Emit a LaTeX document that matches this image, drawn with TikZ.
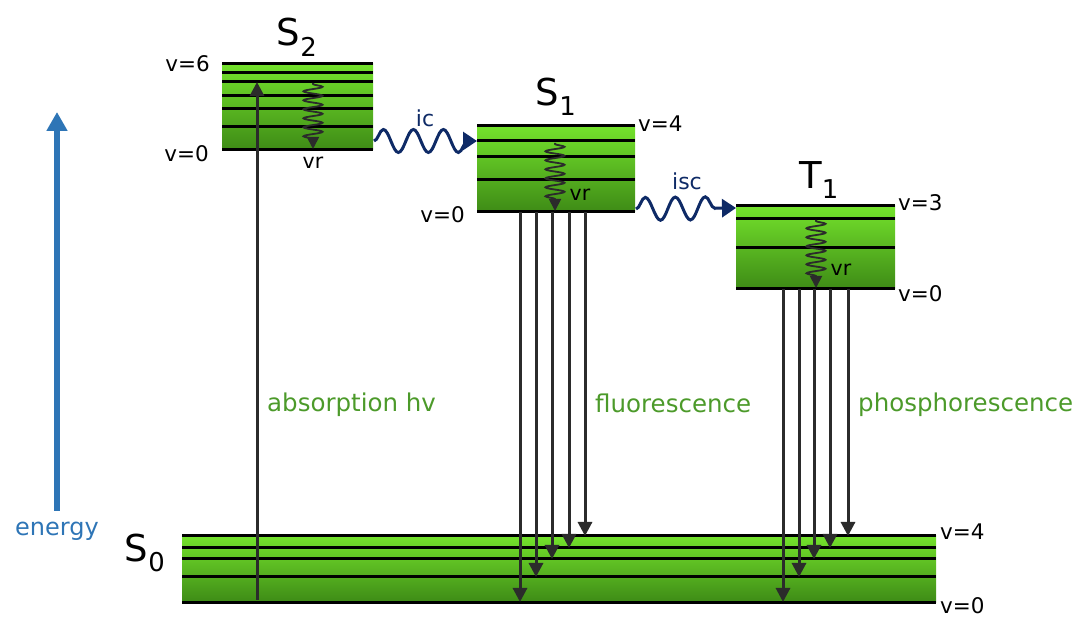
\documentclass[tikz,border=0pt]{standalone}
\usepackage{fontspec}
\setmainfont{DejaVu Sans}
\usetikzlibrary{arrows.meta,decorations.pathmorphing}
\definecolor{gtop}{HTML}{74E22C}
\definecolor{gbot}{HTML}{3E8B16}
\definecolor{glabel}{HTML}{4C9A2A}
\definecolor{navy}{HTML}{0E2A66}
\definecolor{ebl}{HTML}{2E75B6}
\definecolor{dgray}{HTML}{2B2B2B}
\tikzset{
  box/.style={draw=none, inner sep=0, outer sep=0, anchor=north west, top color=gtop, bottom color=gbot},
  lvl/.style={line width=3pt, black},
  arr/.style={line width=3pt, dgray, -{Triangle[length=14pt,width=14pt]}},
  wig/.style={line width=1.8pt, dgray, -{Triangle[length=12pt,width=12pt]}, decorate,
    decoration={snake, amplitude=9.5pt, segment length=9pt, pre length=1pt, post length=9pt}},
  wave/.style={line width=3pt, navy, -{Triangle[length=14pt,width=18pt]}, decorate,
    decoration={snake, amplitude=11.5pt, segment length=30pt, post length=9pt}},
  vlab/.style={font=\fontsize{21.5}{24}\selectfont, inner sep=0},
  slab/.style={font=\fontsize{37}{40}\selectfont, inner sep=0},
  glab/.style={font=\fontsize{24.5}{28}\selectfont, text=glabel, inner sep=0, anchor=west},
  vrlab/.style={font=\fontsize{20.5}{24}\selectfont, inner sep=0},
  wlab/.style={font=\fontsize{22}{26}\selectfont, text=navy, inner sep=0},
}
\begin{document}
\begin{tikzpicture}[x=1pt,y=-1pt]
\useasboundingbox (0,0) rectangle (1080,617);
% boxes
\node[box, minimum width=151pt, minimum height=86pt] (s2) at (222,64) {};
\node[box, minimum width=158pt, minimum height=86pt] (s1) at (477,126) {};
\node[box, minimum width=159pt, minimum height=83pt] (t1) at (736,206) {};
\node[box, minimum width=754pt, minimum height=66pt] (s0) at (182,536) {};
% levels S2
\foreach \y in {64,73,82,96,109,127,150} \draw[lvl] (222,\y) -- (373,\y);
% levels S1
\foreach \y in {126,141,157,180,212} \draw[lvl] (477,\y) -- (635,\y);
% levels T1
\foreach \y in {206,219,248,289} \draw[lvl] (736,\y) -- (895,\y);
% levels S0
\foreach \y in {536,548,559,577,602} \draw[lvl] (182,\y) -- (936,\y);
% state labels
\node[slab] (ls2) at (297,37) {S\textsubscript{2}};
\node[slab] (ls1) at (556,97) {S\textsubscript{1}};
\node[slab] (lt1) at (819,180) {T\textsubscript{1}};
\node[slab] (ls0) at (145,553) {S\textsubscript{0}};
% v labels
\node[vlab, anchor=east] (a1) at (210,64) {v=6};
\node[vlab, anchor=east] (a2) at (209,154) {v=0};
\node[vlab, anchor=west] (a3) at (638,124) {v=4};
\node[vlab, anchor=east] (a4) at (465,215) {v=0};
\node[vlab, anchor=west] (a5) at (898,203) {v=3};
\node[vlab, anchor=west] (a6) at (898,294) {v=0};
\node[vlab, anchor=west] (a7) at (940,532) {v=4};
\node[vlab, anchor=west] (a8) at (940,606) {v=0};
% absorption
\coordinate (ab0) at (257,600);
\coordinate (ab1) at (257,82);
\draw[arr] (ab0) -- (ab1);
% vibrational relaxation
\coordinate (w2a) at (313,83); \coordinate (w2b) at (313,149);
\coordinate (w1a) at (555,143); \coordinate (w1b) at (555,211);
\coordinate (w3a) at (816,220); \coordinate (w3b) at (816,288);
\draw[wig] (w2a) -- (w2b);
\draw[wig] (w1a) -- (w1b);
\draw[wig] (w3a) -- (w3b);
\node[vrlab] (vr2) at (313,163) {vr};
\node[vrlab] (vr1) at (580,195) {vr};
\node[vrlab] (vr3) at (841,270) {vr};
% ic and isc
\coordinate (ica) at (374,141); \coordinate (icb) at (477,141);
\coordinate (isa) at (636,209); \coordinate (isb) at (736,208);
\draw[wave] (ica) -- (icb);
\draw[wave] (isa) -- (isb);
\node[wlab] (lic) at (425,118) {ic};
\node[wlab] (lisc) at (687,181) {isc};
% fluorescence
\foreach \x/\y [count=\i] in {520/602,536/577,552/559,569/548,585/536} {
  \coordinate (fa\i) at (\x,212); \coordinate (fb\i) at (\x,\y);
  \draw[arr] (fa\i) -- (fb\i);
}
% phosphorescence
\foreach \x/\y [count=\i] in {783/602,799/577,814/559,830/548,848/536} {
  \coordinate (pa\i) at (\x,289); \coordinate (pb\i) at (\x,\y);
  \draw[arr] (pa\i) -- (pb\i);
}
% green labels
\node[glab] (labs) at (267,405) {absorption hv};
\node[glab] (lfl) at (595,403) {fluorescence};
\node[glab] (lph) at (858,405) {phosphorescence};
% energy axis
\coordinate (e0) at (57,511);
\coordinate (e1) at (57,112);
\draw[line width=5.5pt, ebl, -{Triangle[length=19pt,width=20pt]}] (e0) -- (e1);
\node[font=\fontsize{24}{28}\selectfont, text=ebl, inner sep=0] (len) at (57,531) {energy};
\end{tikzpicture}
\end{document}
